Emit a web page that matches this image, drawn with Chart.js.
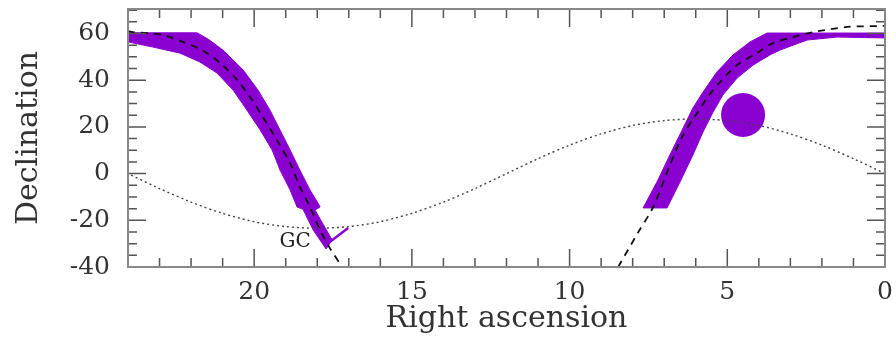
<!DOCTYPE html>
<html><head><meta charset="utf-8">
<script src="https://cdn.jsdelivr.net/npm/chart.js@4/dist/chart.umd.min.js"></script>
<style>html,body{margin:0;padding:0;background:#fff}</style>
</head><body>
<canvas id="c" width="896" height="346"></canvas>
<script>
// ---- tick labels / tick positions ----
const xMajorTicks = [0, 5, 10, 15, 20];
const xMinorTicks = [1,2,3,4,6,7,8,9,11,12,13,14,16,17,18,19,21,22,23];
const yMajorTicks = [-40, -20, 0, 20, 40, 60];
const yMinorTicks = [-35,-30,-25,-15,-10,-5,5,10,15,25,30,35,45,50,55,65,70];

// ---- left purple band (outline, RA hours / Dec degrees) ----
const leftBandRA  = [24, 21.81, 21.45, 20.99, 20.35, 19.88, 19.50, 19.18, 18.86, 18.55, 18.23, 17.98, 17.91, 18.07, 17.53, 17.72, 18.13, 18.45, 18.64, 18.86, 19.18, 19.43, 19.81, 20.23, 20.67, 21.18, 21.72, 22.35, 23.21, 24];
const leftBandDec = [60.3, 60.3, 57.5, 52.9, 44.4, 35.8, 27.2, 18.7, 10.1, 1.5, -7.0, -12.6, -14.3, -15.6, -28.4, -32.3, -24.1, -15.3, -14.3, -7.0, 1.5, 10.1, 18.7, 27.2, 35.8, 43.1, 47.8, 51.6, 54.2, 56.4];

// ---- right purple band ----
const rightBandRA  = [0, 3.74, 4.28, 4.82, 5.33, 5.77, 6.09, 6.40, 6.82, 7.23, 7.67, 6.91, 6.50, 6.09, 5.77, 5.45, 5.14, 4.69, 4.18, 3.65, 3.33, 2.47, 1.52, 0];
const rightBandDec = [60.2, 60.2, 56.4, 50.8, 43.5, 34.9, 28.1, 19.5, 8.0, -3.6, -14.7, -14.7, -3.6, 8.0, 17.8, 26.4, 33.7, 40.9, 46.5, 50.8, 52.9, 57.2, 58.5, 58.1];

// ---- GC spur ----
const spurRA  = [17.72, 17.02];
const spurDec = [-30.5, -23.3];

// ---- purple disc ----
const discRA  = [4.5];
const discDec = [25.1];

// ---- dashed curves ----
const dashLeftRA  = [24, 23.84, 22.89, 22.26, 21.65, 21.08, 20.54, 20.13, 19.72, 19.28, 18.86, 18.55, 18.23, 17.91, 17.6, 17.21];
const dashLeftDec = [61, 60.6, 59.4, 56.4, 52.9, 47.4, 40.1, 32.8, 24.2, 14.4, 4.5, -5.7, -14.3, -24.2, -31.9, -40];
const dashRightRA  = [8.46, 7.84, 7.35, 6.82, 6.4, 5.96, 5.64, 5.23, 4.69, 4.06, 3.55, 2.92, 2.28, 1.2, 0.16, 0];
const dashRightDec = [-40, -25.5, -14.3, 3.6, 16.5, 25.9, 32.4, 39.2, 46.5, 51.6, 55.9, 58.5, 60.6, 62.8, 63.2, 63.3];

// ---- dotted curve ----
const dotRA  = [0,1,2,3,4,5,6,7,8,9,10,11,12,13,14,15,16,17,18,19,20,21,22,23,24];
const dotDec = [0, 6.4, 12.2, 17.0, 20.6, 22.7, 23.4, 22.7, 20.6, 17.0, 12.2, 6.4, 0, -6.4, -12.2, -17.0, -20.6, -22.7, -23.4, -22.7, -20.6, -17.0, -12.2, -6.4, 0];

// ---- label ----
const gcLabel = {text: 'GC', ra: 18.7, dec: -29};

const PURPLE = 'rgb(138,0,208)';
const FONT = "'DejaVu Serif', 'Liberation Serif', serif";
const pts = (xs, ys) => xs.map((x, i) => ({x, y: ys[i]}));

const frameTicks = {
  id: 'frameTicks',
  afterDatasetsDraw(chart) {
    const {ctx, chartArea: a, scales: {x, y}} = chart;
    ctx.save();
    ctx.strokeStyle = '#555';
    ctx.lineWidth = 1.5;
    ctx.beginPath();
    const xt = (v, len) => {
      const p = x.getPixelForValue(v);
      ctx.moveTo(p, a.bottom); ctx.lineTo(p, a.bottom - len);
      ctx.moveTo(p, a.top); ctx.lineTo(p, a.top + len);
    };
    const yt = (v, len) => {
      const p = y.getPixelForValue(v);
      ctx.moveTo(a.left, p); ctx.lineTo(a.left + len, p);
      ctx.moveTo(a.right, p); ctx.lineTo(a.right - len, p);
    };
    xMajorTicks.forEach(v => xt(v, 18));
    xMinorTicks.forEach(v => xt(v, 9));
    yMajorTicks.forEach(v => yt(v, 18));
    yMinorTicks.forEach(v => yt(v, 9));
    ctx.stroke();
    ctx.strokeStyle = '#888';
    ctx.lineWidth = 2;
    ctx.strokeRect(a.left, a.top, a.right - a.left, a.bottom - a.top);
    ctx.fillStyle = '#222';
    ctx.font = "20px " + FONT;
    ctx.textAlign = 'center';
    ctx.textBaseline = 'middle';
    ctx.fillText(gcLabel.text, x.getPixelForValue(gcLabel.ra), y.getPixelForValue(gcLabel.dec));
    ctx.restore();
  }
};

new Chart(document.getElementById('c'), {
  type: 'scatter',
  data: {
    datasets: [
      {data: pts(dotRA, dotDec), showLine: true, borderColor: '#444', borderWidth: 1.4, borderDash: [2, 3], pointRadius: 0, tension: 0.3, fill: false, order: 0},
      {data: pts(dashLeftRA, dashLeftDec), showLine: true, borderColor: '#111', borderWidth: 1.8, borderDash: [7, 6], pointRadius: 0, tension: 0.3, fill: false, order: 0},
      {data: pts(dashRightRA, dashRightDec), showLine: true, borderColor: '#111', borderWidth: 1.8, borderDash: [7, 6], pointRadius: 0, tension: 0.3, fill: false, order: 0},
      {data: pts(discRA, discDec), showLine: false, pointRadius: 22, pointBackgroundColor: PURPLE, pointBorderWidth: 0, order: 1},
      {data: pts(spurRA, spurDec), showLine: true, borderColor: PURPLE, borderWidth: 2.5, pointRadius: 0, fill: false, order: 1},
      {data: pts(leftBandRA, leftBandDec), showLine: true, borderColor: PURPLE, borderWidth: 1, backgroundColor: PURPLE, pointRadius: 0, tension: 0, fill: 'shape', order: 2},
      {data: pts(rightBandRA, rightBandDec), showLine: true, borderColor: PURPLE, borderWidth: 1, backgroundColor: PURPLE, pointRadius: 0, tension: 0, fill: 'shape', order: 2}
    ]
  },
  options: {
    responsive: false,
    animation: false,
    devicePixelRatio: 1,
    layout: {autoPadding: false, padding: {top: 9, right: 11, left: 0, bottom: 0}},
    plugins: {legend: {display: false}, tooltip: {enabled: false}},
    scales: {
      x: {
        type: 'linear', reverse: true, min: 0, max: 24,
        afterBuildTicks: s => { s.ticks = xMajorTicks.map(v => ({value: v})); },
        afterFit: s => { s.height = 79; s.paddingLeft = 0; s.paddingRight = 0; s.paddingTop = 0; s.paddingBottom = 0; },
        grid: {display: false, drawTicks: false},
        border: {display: false},
        ticks: {color: '#333', font: {family: FONT, size: 25}, padding: 10, maxRotation: 0},
        title: {display: true, text: 'Right ascension', color: '#333', font: {family: FONT, size: 30}, padding: {top: 0, bottom: 9}}
      },
      y: {
        type: 'linear', min: -40, max: 70.5,
        afterBuildTicks: s => { s.ticks = yMajorTicks.map(v => ({value: v})); },
        afterFit: s => { s.width = 128; s.paddingLeft = 0; s.paddingRight = 0; s.paddingTop = 0; s.paddingBottom = 0; },
        grid: {display: false, drawTicks: false},
        border: {display: false},
        ticks: {color: '#333', font: {family: FONT, size: 25}, padding: 18},
        title: {display: true, text: 'Declination', color: '#333', font: {family: FONT, size: 30}, padding: {top: 11, bottom: 0}}
      }
    }
  },
  plugins: [frameTicks]
});
</script>
</body></html>
